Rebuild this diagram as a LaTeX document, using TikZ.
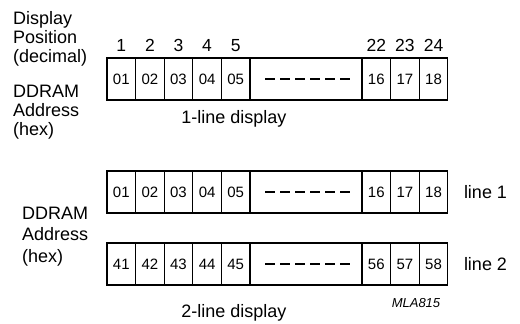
\documentclass[tikz,border=0pt]{standalone}
\usepackage{fontspec}
\setmainfont{Liberation Sans}
\usetikzlibrary{positioning}

\tikzset{
  cell/.style={draw, line width=1.1pt, outer sep=0pt, inner sep=0pt,
    minimum width=28.6pt, minimum height=42pt, font=\fontsize{15}{15}\selectfont},
  gapcell/.style={cell, minimum width=112pt},
  dashline/.style={line width=1.3pt, dash pattern=on 10pt off 5pt},
  posnum/.style={inner sep=0pt, font=\fontsize{17.5}{17.5}\selectfont},
  sidetext/.style={inner sep=0pt, align=left, anchor=base west,
    font=\fontsize{18}{18.7}\selectfont},
  captext/.style={inner sep=0pt, anchor=base, font=\fontsize{18}{18}\selectfont},
}

\begin{document}
\begin{tikzpicture}[x=1pt, y=1pt]
  \useasboundingbox (0,0) rectangle (520,-324);

  % labels left (base = last line)
  \node[sidetext] (disp) at (13,-62) {Display\\Position\\(decimal)};
  \node[sidetext] (addr) at (13,-135) {DDRAM\\Address\\(hex)};

  % 1-line display
  \foreach \a [count=\i] in {01,02,03,04,05}
    \node[cell] (a\i) at ({107+28.6*(\i-0.5)},-79) {\a};
  \node[gapcell, right=0pt of a5] (agap) {};
  \node[cell, right=0pt of agap] (a6) {16};
  \node[cell, right=0pt of a6] (a7) {17};
  \node[cell, right=0pt of a7] (a8) {18};
  \draw[dashline] ([xshift=15pt]agap.west) -- ([xshift=-12pt]agap.east);

  % display positions
  \foreach \n [count=\i] in {1,...,5}
    \node[posnum, above=6pt of a\i] (p\i) {\n};
  \node[posnum, above=6pt of a6] (p6) {22};
  \node[posnum, above=6pt of a7] (p7) {23};
  \node[posnum, above=6pt of a8] (p8) {24};

  \node[captext] (cap1) at (234,-123) {1-line display};

  % 2-line display, line 1
  \foreach \a [count=\i] in {01,02,03,04,05}
    \node[cell] (b\i) at ({107+28.6*(\i-0.5)},-192) {\a};
  \node[gapcell, right=0pt of b5] (bgap) {};
  \node[cell, right=0pt of bgap] (b6) {16};
  \node[cell, right=0pt of b6] (b7) {17};
  \node[cell, right=0pt of b7] (b8) {18};
  \draw[dashline] ([xshift=15pt]bgap.west) -- ([xshift=-12pt]bgap.east);

  % 2-line display, line 2
  \foreach \a [count=\i] in {41,42,43,44,45}
    \node[cell] (c\i) at ({107+28.6*(\i-0.5)},-264) {\a};
  \node[gapcell, right=0pt of c5] (cgap) {};
  \node[cell, right=0pt of cgap] (c6) {56};
  \node[cell, right=0pt of c6] (c7) {57};
  \node[cell, right=0pt of c7] (c8) {58};
  \draw[dashline] ([xshift=15pt]cgap.west) -- ([xshift=-12pt]cgap.east);

  \node[sidetext, anchor=west, right=16pt of b8] (line1) {line 1};
  \node[sidetext, anchor=west, right=16pt of c8] (line2) {line 2};
  \node[sidetext, font=\fontsize{18}{21.5}\selectfont] (addr2) at (22,-262)
    {DDRAM\\Address\\(hex)};

  \node[captext] (cap2) at (234,-317) {2-line display};
  \node[inner sep=0pt, anchor=base, font=\fontsize{13}{13}\selectfont\itshape]
    (code) at (416,-307) {MLA815};
\end{tikzpicture}
\end{document}
